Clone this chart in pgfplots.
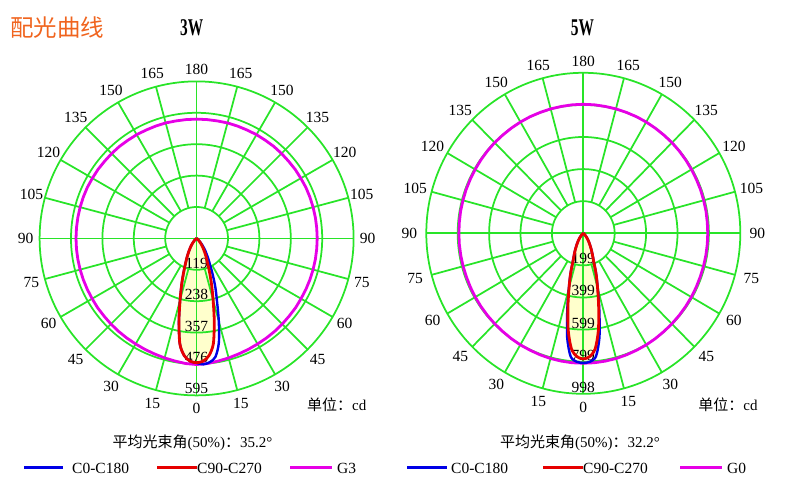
\documentclass[border=0pt]{standalone}
\usepackage{graphicx}
\usepackage{pgfplots}
\pgfplotsset{compat=1.18}
\usepackage{pgfplotstable}
\usepackage{fontspec}
\setmainfont{Liberation Serif}
\newfontfamily\cjk{Noto Sans CJK SC}
\usetikzlibrary{calc}

\definecolor{gridg}{RGB}{40,228,40}
\definecolor{cblue}{RGB}{0,0,230}
\definecolor{cred}{RGB}{230,0,0}
\definecolor{cmag}{RGB}{230,0,230}
\definecolor{cfill}{RGB}{255,255,204}
\definecolor{corange}{RGB}{240,100,30}

% polar angle (deg, 0 = right, -90 = down) and intensity (cd)
\pgfplotstableread{
a r
-160 0
-150 2
-140 6
-135 13
-130 24
-125 40
-120 62
-117 80
-114 103
-111 137
-108 183
-105 242
-102 322
-99 405
-96 447
-93 466
-90 471
-87 466
-84 447
-81 405
-78 322
-75 242
-72 183
-69 137
-66 103
-63 80
-60 62
-55 40
-50 24
-45 13
-40 6
-30 2
-20 0
}\redA

\pgfplotstableread{
a r
-160 0
-150 2
-140 6
-135 13
-130 24
-125 40
-120 62
-117 80
-114 103
-111 137
-108 183
-105 242
-102 322
-99 405
-96 447
-93 466
-90 472
-87 478
-84 472
-81 455
-78 405
-75 325
-72 250
-69 198
-66 150
-63 112
-60 88
-55 58
-50 35
-45 18
-40 8
-30 2
-20 0
}\blueA

\pgfplotstableread{
a r
-90 478
-85 476
-80 472
-75 469
-70 466
-65 464
-60 462
-55 461
-50 460
-45 459
-40 458
-35 458
-30 457
-25 457
-20 457
-15 457
-10 457
-5 457
0 457
5 457
10 457
15 457
20 457
25 457
30 456
35 456
40 455
45 455
50 455
55 454
60 454
65 453
70 453
75 453
80 452
85 452
90 452
95 452
100 452
105 453
110 453
115 453
120 454
125 454
130 455
135 455
140 455
145 456
150 456
155 457
160 457
165 457
170 457
175 457
180 457
185 457
190 457
195 457
200 457
205 457
210 457
215 458
220 458
225 459
230 460
235 461
240 462
245 464
250 466
255 469
260 472
265 476
270 478
}\magA

\pgfplotstableread{
a r
-160 0
-150 2
-140 7
-135 16
-130 32
-125 55
-120 85
-117 110
-114 140
-111 180
-108 260
-105 350
-102 470
-99 612
-96 722
-93 768
-90 781
-87 768
-84 722
-81 612
-78 470
-75 350
-72 260
-69 180
-66 140
-63 110
-60 85
-55 55
-50 32
-45 16
-40 7
-30 2
-20 0
}\redB

\pgfplotstableread{
a r
-160 0
-150 2
-140 7
-135 16
-130 33
-125 56
-120 86
-117 111
-114 141
-111 182
-108 262
-105 355
-102 490
-99 655
-96 770
-93 800
-90 806
-87 800
-84 770
-81 655
-78 490
-75 355
-72 262
-69 182
-66 141
-63 111
-60 86
-55 56
-50 33
-45 16
-40 7
-30 2
-20 0
}\blueB

\pgfplotstableread{
a r
-90 808
-85 808
-80 807
-75 806
-70 804
-65 802
-60 801
-55 799
-50 797
-45 796
-40 795
-35 794
-30 793
-25 792
-20 791
-15 791
-10 791
-5 791
0 791
5 791
10 792
15 792
20 793
25 793
30 794
35 795
40 796
45 797
50 797
55 798
60 799
65 800
70 800
75 801
80 801
85 802
90 802
95 802
100 801
105 801
110 800
115 800
120 799
125 798
130 797
135 797
140 796
145 795
150 794
155 793
160 793
165 792
170 792
175 791
180 791
185 791
190 791
195 791
200 791
205 792
210 793
215 794
220 795
225 796
230 797
235 799
240 801
245 802
250 804
255 806
260 807
265 808
270 808
}\magB

\pgfplotsset{
  polstyle/.style={scale only axis, axis lines=none, clip=false, anchor=center},
}
\tikzset{gridline/.style={gridg, line width=1.75pt},
  rlab/.style={anchor=base, inner sep=0, yshift=1.5pt, font=\fontsize{15.5}{16}\selectfont}}

\begin{document}
\begin{tikzpicture}[x=1pt,y=1pt]
\path[use as bounding box] (0,0) rectangle (790,489);

% ---------------- 3W ----------------
\begin{axis}[polstyle, at={(196.6pt,250.6pt)}, width=314pt, height=314pt,
  xmin=-595, xmax=595, ymin=-595, ymax=595]
\addplot[draw=none, fill=cfill, smooth, data cs=polar] table[x=a,y=r] {\redA};
\draw[gridline] (axis cs:0,0) ellipse [x radius=119, y radius=119];
\draw[gridline] (axis cs:0,0) ellipse [x radius=238, y radius=238];
\draw[gridline] (axis cs:0,0) ellipse [x radius=357, y radius=357];
\draw[gridline] (axis cs:0,0) ellipse [x radius=476, y radius=476];
\draw[gridline] (axis cs:0,0) ellipse [x radius=595, y radius=595];
\pgfplotsinvokeforeach{15,30,45,60,75,105,120,135,150,165,195,210,225,240,255,285,300,315,330,345}{
  \addplot[gridline, data cs=polar] coordinates {(#1,119) (#1,595)};
}
\addplot[gridline] coordinates {(-595,0) (595,0)};
\addplot[gridline] coordinates {(0,-595) (0,595)};
\node[rlab] at (axis cs:0,-119) {119};
\node[rlab] at (axis cs:0,-238) {238};
\node[rlab] at (axis cs:0,-357) {357};
\node[rlab] at (axis cs:0,-476) {476};
\node[rlab] at (axis cs:0,-595) {595};
\addplot[cmag, line width=2.8pt, data cs=polar] table[x=a,y=r] {\magA};
\addplot[cblue, line width=2.4pt, smooth, data cs=polar] table[x=a,y=r] {\blueA};
\addplot[cred, line width=2.8pt, smooth, data cs=polar] table[x=a,y=r] {\redA};
\end{axis}

% ---------------- 5W ----------------
\begin{axis}[polstyle, at={(583.3pt,255.7pt)}, width=314pt, height=321pt,
  xmin=-998, xmax=998, ymin=-998, ymax=998]
\addplot[draw=none, fill=cfill, smooth, data cs=polar] table[x=a,y=r] {\redB};
\draw[gridline] (axis cs:0,0) ellipse [x radius=199.6, y radius=199.6];
\draw[gridline] (axis cs:0,0) ellipse [x radius=399.2, y radius=399.2];
\draw[gridline] (axis cs:0,0) ellipse [x radius=598.8, y radius=598.8];
\draw[gridline] (axis cs:0,0) ellipse [x radius=798.4, y radius=798.4];
\draw[gridline] (axis cs:0,0) ellipse [x radius=998, y radius=998];
\pgfplotsinvokeforeach{15,30,45,60,75,105,120,135,150,165,195,210,225,240,255,285,300,315,330,345}{
  \addplot[gridline, data cs=polar] coordinates {(#1,199.6) (#1,998)};
}
\addplot[gridline] coordinates {(-998,0) (998,0)};
\addplot[gridline] coordinates {(0,-998) (0,998)};
\node[rlab] at (axis cs:0,-199.6) {199};
\node[rlab] at (axis cs:0,-399.2) {399};
\node[rlab] at (axis cs:0,-598.8) {599};
\node[rlab] at (axis cs:0,-798.4) {799};
\node[rlab] at (axis cs:0,-998) {998};
\addplot[cmag, line width=2.8pt, data cs=polar] table[x=a,y=r] {\magB};
\addplot[cblue, line width=2.4pt, smooth, data cs=polar] table[x=a,y=r] {\blueB};
\addplot[cred, line width=2.8pt, smooth, data cs=polar] table[x=a,y=r] {\redB};
\end{axis}

% angle labels
\begin{scope}[every node/.style={font=\fontsize{15.5}{16}\selectfont, inner sep=0}]
\coordinate (c1) at (196.6,250.6);
\coordinate (c2) at (583.3,255.7);
\node at ($(c1)+(0,-170)$) {0};
\node at ($(c1)+(0,169)$) {180};
\node at ($(c2)+(0,-174)$) {0};
\node at ($(c2)+(0,172)$) {180};
\foreach \t in {15,30,...,165}{
  \node at ($(c1)+({171*sin(\t)},{-171*cos(\t)})$) {\t};
  \node at ($(c1)+({-171*sin(\t)},{-171*cos(\t)})$) {\t};
  \node at ($(c2)+({174*sin(\t)},{-174*cos(\t)})$) {\t};
  \node at ($(c2)+({-174*sin(\t)},{-174*cos(\t)})$) {\t};
}
\end{scope}

% titles
\node[anchor=west, inner sep=0, text=corange] at (10,461.5) {\fontsize{23.5}{24}\selectfont\cjk 配光曲线};
\node[inner sep=0] at (191.7,461.2) {\fontsize{24}{24}\selectfont\scalebox{0.64}[1]{\bfseries 3W}};
\node[inner sep=0] at (582.5,461.0) {\fontsize{24}{24}\selectfont\scalebox{0.64}[1]{\bfseries 5W}};

% unit
\node[inner sep=0] at (336.7,84) {\fontsize{15}{15}\selectfont{\cjk 单位：}cd};
\node[inner sep=0] at (728,84) {\fontsize{15}{15}\selectfont{\cjk 单位：}cd};

% beam angle
\node[inner sep=0] at (192.5,46.3) {\fontsize{15}{15}\selectfont{\cjk 平均光束角}(50\%){\cjk ：}35.2°};
\node[inner sep=0] at (580,46.3) {\fontsize{15}{15}\selectfont{\cjk 平均光束角}(50\%){\cjk ：}32.2°};

% legends
\begin{scope}[every node/.style={font=\fontsize{15.5}{16}\selectfont, inner sep=0, anchor=west}]
\draw[cblue, line width=3pt] (24,21) -- (63,21);
\node at (72,21) {C0-C180};
\draw[cred, line width=3pt] (157,21) -- (197,21);
\node at (197,21) {C90-C270};
\draw[cmag, line width=3pt] (290,21) -- (332,21);
\node at (337,21) {G3};
\draw[cblue, line width=3pt] (407,21) -- (447,21);
\node at (451,21) {C0-C180};
\draw[cred, line width=3pt] (543,21) -- (583,21);
\node at (583,21) {C90-C270};
\draw[cmag, line width=3pt] (680,21) -- (722,21);
\node at (727,21) {G0};
\end{scope}
\end{tikzpicture}
\end{document}
